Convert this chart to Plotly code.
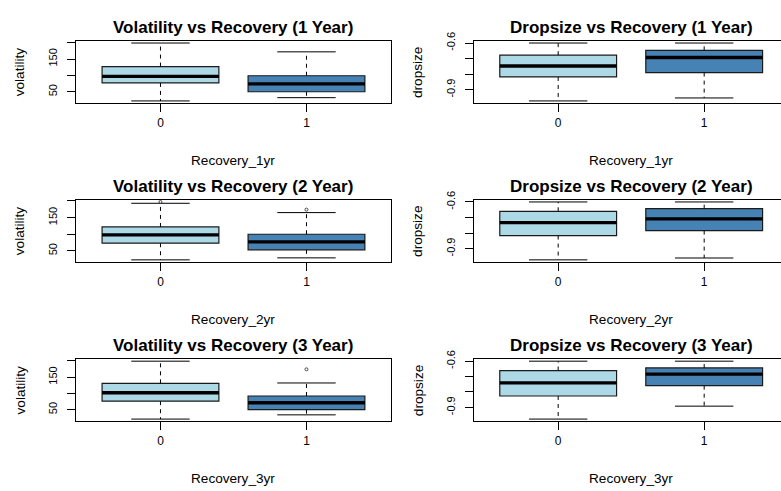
import plotly.graph_objects as go

W, H = 781, 491

# recovery groups and their x positions
groups = ["0", "1"]
group_pos = [1, 2]
fill_colors = ["#ADD8E6", "#4682B4"]

# box statistics per group: [lower whisker, Q1, median, Q3, upper whisker]
vol_1yr_g0 = [22, 77, 97, 127, 199]
vol_1yr_g1 = [32, 50, 74, 99, 172]
vol_2yr_g0 = [23, 73, 98, 122, 193]
vol_2yr_g1 = [29, 53, 77, 100, 165]
vol_3yr_g0 = [21, 76, 102, 131, 199]
vol_3yr_g1 = [34, 50, 71, 92, 132]

drop_1yr_g0 = [-0.972, -0.818, -0.748, -0.678, -0.600]
drop_1yr_g1 = [-0.953, -0.790, -0.693, -0.647, -0.600]
drop_2yr_g0 = [-0.972, -0.816, -0.733, -0.660, -0.600]
drop_2yr_g1 = [-0.960, -0.784, -0.709, -0.643, -0.600]
drop_3yr_g0 = [-0.976, -0.826, -0.741, -0.661, -0.600]
drop_3yr_g1 = [-0.892, -0.759, -0.684, -0.644, -0.600]

# outlying points per group
vol_2yr_out_g0 = [197]
vol_2yr_out_g1 = [174]
vol_3yr_out_g1 = [174]

# axis ticks (crowded labels left blank)
vol_ticks = [50, 100, 150, 200]
vol_tick_text = ["50", "", "150", ""]
drop_ticks = [-0.9, -0.8, -0.7, -0.6]
drop_tick_text = ["-0.9", "", "", "-0.6"]

panels = [
    dict(row=0, col=0, title="Volatility vs Recovery (1 Year)", ylab="volatility", xlab="Recovery_1yr",
         stats=[vol_1yr_g0, vol_1yr_g1], out=[[], []], ticks=vol_ticks, tick_text=vol_tick_text),
    dict(row=0, col=1, title="Dropsize vs Recovery (1 Year)", ylab="dropsize", xlab="Recovery_1yr",
         stats=[drop_1yr_g0, drop_1yr_g1], out=[[], []], ticks=drop_ticks, tick_text=drop_tick_text),
    dict(row=1, col=0, title="Volatility vs Recovery (2 Year)", ylab="volatility", xlab="Recovery_2yr",
         stats=[vol_2yr_g0, vol_2yr_g1], out=[vol_2yr_out_g0, vol_2yr_out_g1], ticks=vol_ticks, tick_text=vol_tick_text),
    dict(row=1, col=1, title="Dropsize vs Recovery (2 Year)", ylab="dropsize", xlab="Recovery_2yr",
         stats=[drop_2yr_g0, drop_2yr_g1], out=[[], []], ticks=drop_ticks, tick_text=drop_tick_text),
    dict(row=2, col=0, title="Volatility vs Recovery (3 Year)", ylab="volatility", xlab="Recovery_3yr",
         stats=[vol_3yr_g0, vol_3yr_g1], out=[[], vol_3yr_out_g1], ticks=vol_ticks, tick_text=vol_tick_text),
    dict(row=2, col=1, title="Dropsize vs Recovery (3 Year)", ylab="dropsize", xlab="Recovery_3yr",
         stats=[drop_3yr_g0, drop_3yr_g1], out=[[], []], ticks=drop_ticks, tick_text=drop_tick_text),
]

# panel frames in pixels
row_top = [32.3, 194.2, 356.4]
frame_h = 63.7
col_left = [75.8, 473.5]
unit_px = 146.0           # pixels per x unit
x_lo = 0.42               # left x limit (0.5 less 4% padding)
box_w = 0.8
staple_half = 0.2

FONT = "Liberation Sans, Arial, sans-serif"
INK = "#000000"


def px(x):
    return x / W


def py(y):
    return 1 - y / H


fig = go.Figure()
layout = dict(
    width=W, height=H, margin=dict(l=0, r=0, t=0, b=0),
    paper_bgcolor="white", plot_bgcolor="white",
    showlegend=False, boxmode="overlay",
    font=dict(family=FONT, color=INK),
)
annotations = []

for i, p in enumerate(panels):
    n = i + 1
    xid = "x" if n == 1 else f"x{n}"
    yid = "y" if n == 1 else f"y{n}"
    xkey = "xaxis" if n == 1 else f"xaxis{n}"
    ykey = "yaxis" if n == 1 else f"yaxis{n}"

    left = col_left[p["col"]]
    right = min(left + 2.16 * unit_px, W)
    top = row_top[p["row"]]
    bottom = top + frame_h
    x_hi = x_lo + (right - left) / unit_px
    full_right = left + 2.16 * unit_px

    values = [v for s in p["stats"] for v in (s[0], s[4])] + [v for o in p["out"] for v in o]
    lo, hi = min(values), max(values)
    pad = 0.04 * (hi - lo)

    for g, pos in enumerate(group_pos):
        s = p["stats"][g]
        # dashed whiskers
        fig.add_trace(go.Scatter(
            x=[pos, pos, None, pos, pos], y=[s[3], s[4], None, s[1], s[0]],
            mode="lines", line=dict(color=INK, width=1, dash="4px,4px"),
            hoverinfo="skip", xaxis=xid, yaxis=yid))
        # whisker caps
        fig.add_trace(go.Scatter(
            x=[pos - staple_half, pos + staple_half, None, pos - staple_half, pos + staple_half],
            y=[s[4], s[4], None, s[0], s[0]],
            mode="lines", line=dict(color=INK, width=1),
            hoverinfo="skip", xaxis=xid, yaxis=yid))
        # box body
        fig.add_trace(go.Box(
            x=[pos], q1=[s[1]], median=[s[2]], q3=[s[3]],
            lowerfence=[s[1]], upperfence=[s[3]],
            width=box_w, whiskerwidth=0, boxpoints=False,
            fillcolor=fill_colors[g], line=dict(color="#1a1a1a", width=1.2),
            hoverinfo="skip", xaxis=xid, yaxis=yid))
        # thick median
        fig.add_trace(go.Scatter(
            x=[pos - box_w / 2, pos + box_w / 2], y=[s[2], s[2]],
            mode="lines", line=dict(color=INK, width=3.4),
            hoverinfo="skip", xaxis=xid, yaxis=yid))
        # outliers
        if p["out"][g]:
            fig.add_trace(go.Scatter(
                x=[pos] * len(p["out"][g]), y=p["out"][g], mode="markers",
                marker=dict(symbol="circle-open", size=3, color="#444444", line=dict(width=1)),
                hoverinfo="skip", xaxis=xid, yaxis=yid))

    layout[xkey] = dict(
        domain=[px(left), px(right)], range=[x_lo, x_hi], anchor=yid,
        tickvals=group_pos, ticktext=groups, ticks="outside", ticklen=8,
        tickwidth=1, tickcolor=INK, showline=True, linecolor=INK, linewidth=1,
        mirror=True, showgrid=False, zeroline=False, ticklabelstandoff=0,
        tickfont=dict(size=12, color=INK, family=FONT))
    layout[ykey] = dict(
        domain=[py(bottom), py(top)], range=[lo - pad, hi + pad], anchor=xid,
        tickvals=p["ticks"], ticktext=p["tick_text"], tickangle=-90,
        ticks="outside", ticklen=8, tickwidth=1, tickcolor=INK,
        showline=True, linecolor=INK, linewidth=1, mirror=(p["col"] == 0),
        showgrid=False, zeroline=False, ticklabelstandoff=5,
        tickfont=dict(size=11, color=INK, family=FONT))

    cx = (left + full_right) / 2
    cy = (top + bottom) / 2
    annotations.append(dict(
        text=f"<b>{p['title']}</b>", x=px(cx), y=py(top - 13.5), xref="paper", yref="paper",
        xanchor="center", yanchor="middle", showarrow=False,
        font=dict(size=17, color=INK, family=FONT)))
    annotations.append(dict(
        text=p["xlab"], x=px(cx), y=py(bottom + 58.5), xref="paper", yref="paper",
        xanchor="center", yanchor="middle", showarrow=False,
        font=dict(size=13.6, color=INK, family=FONT)))
    annotations.append(dict(
        text=p["ylab"], x=px(left - 55.5), y=py(cy), xref="paper", yref="paper",
        xanchor="center", yanchor="middle", textangle=-90, showarrow=False,
        font=dict(size=13.6, color=INK, family=FONT)))

layout["annotations"] = annotations
fig.update_layout(**layout)
fig.write_html("out.html")
